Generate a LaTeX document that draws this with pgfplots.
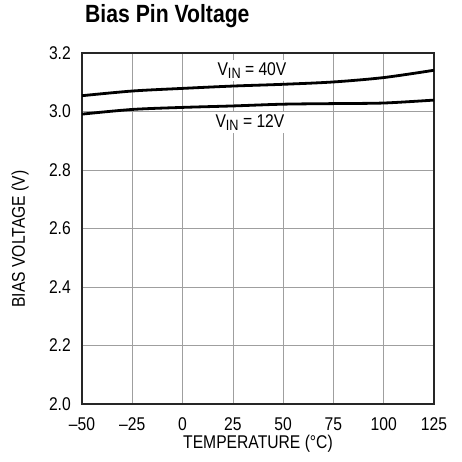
\documentclass[border=0pt]{standalone}
\usepackage{fontspec}
\setmainfont{Liberation Sans}[FakeStretch=0.85]
\usepackage{pgfplots}
\pgfplotsset{compat=1.18}

\newcommand{\lbl}{\fontsize{18.5}{21}\selectfont}
\newcommand{\vin}{V\raisebox{-0.35ex}{\fontsize{15}{17}\selectfont IN}}

\begin{document}
\begin{tikzpicture}
\begin{axis}[
    scale only axis,
    width=352bp, height=351bp,
    xmin=-50, xmax=125,
    ymin=2.0, ymax=3.2,
    xtick={-50,-25,0,25,50,75,100,125},
    xticklabels={\textendash50,\textendash25,0,25,50,75,100,125},
    ytick={2.0,2.2,2.4,2.6,2.8,3.0,3.2},
    yticklabels={2.0,2.2,2.4,2.6,2.8,3.0,3.2},
    major tick length=0pt,
    grid=major,
    major grid style={gray!75, line width=0.7bp},
    axis line style={black!85, line width=1.3bp},
    ticklabel style={font=\lbl},
    xticklabel style={anchor=center, yshift=-20bp},
    yticklabel style={anchor=east, inner sep=0pt, xshift=-11bp},
    xlabel={TEMPERATURE (°C)},
    ylabel={BIAS VOLTAGE (V)},
    label style={font=\lbl},
    xlabel style={at={(axis description cs:0.5,-0.114)}, anchor=center},
    ylabel style={at={(axis description cs:-0.176,0.47)}, anchor=center},
    title={\bfseries Bias Pin Voltage},
    title style={font=\fontsize{25}{28}\selectfont, anchor=base west, inner sep=0pt,
                 at={(axis description cs:0.0085,1.071)}},
]
\addplot[black, line width=2.8bp, smooth] coordinates {
    (-50,3.054) (-25,3.070) (0,3.079) (25,3.087) (50,3.093) (75,3.101) (100,3.116) (125,3.141)
};
\addplot[black, line width=2.8bp, smooth] coordinates {
    (-50,2.991) (-25,3.007) (0,3.014) (25,3.019) (50,3.025) (75,3.027) (100,3.029) (125,3.039)
};
\node[fill=white, inner sep=2bp, font=\lbl] at (axis cs:34.5,3.14) {\vin{} = 40V};
\node[fill=white, inner sep=2bp, font=\lbl] at (axis cs:33.5,2.962) {\vin{} = 12V};
\coordinate (sw) at (rel axis cs:0,0);
\coordinate (ne) at (rel axis cs:1,1);
\end{axis}
\pgfresetboundingbox
\path[use as bounding box] ([shift={(-82bp,-58bp)}]sw) rectangle ([shift={(28bp,53bp)}]ne);
\end{tikzpicture}
\end{document}
